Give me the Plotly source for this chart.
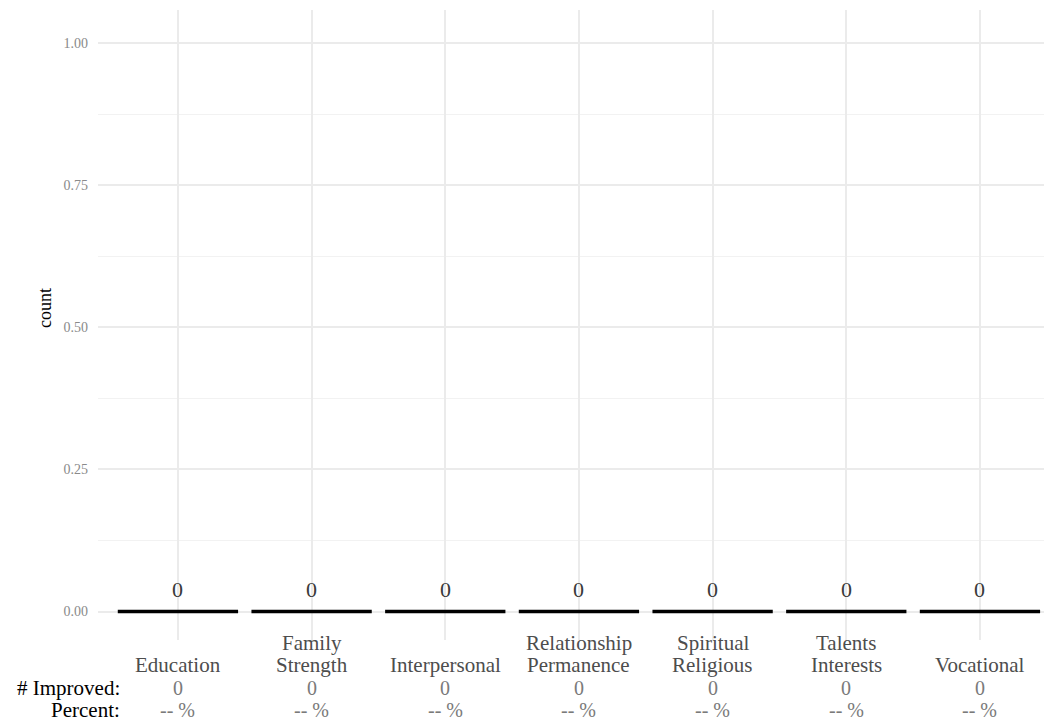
import plotly.graph_objects as go

categories = [["", "Education"], ["Family", "Strength"], ["", "Interpersonal"],
              ["Relationship", "Permanence"], ["Spiritual", "Religious"],
              ["Talents", "Interests"], ["", "Vocational"]]
counts = [0, 0, 0, 0, 0, 0, 0]
improved = [0, 0, 0, 0, 0, 0, 0]
percent_labels = ["-- %", "-- %", "-- %", "-- %", "-- %", "-- %", "-- %"]
row_labels = ["# Improved:", "Percent:"]
y_ticks = [0, 0.25, 0.5, 0.75, 1.0]
y_tick_labels = ["0.00", "0.25", "0.50", "0.75", "1.00"]
y_title = "count"

FONT = "Liberation Serif"
xpos = list(range(len(categories)))

# page is offset by 8px body margin; compensate
OFF = 8
W, H = 1052 - OFF, 721 - OFF
PLOT_TOP, PLOT_BOTTOM = 10, 640  # page px

def shift(center_page_y):
    return -(center_page_y - PLOT_BOTTOM)

fig = go.Figure()
fig.add_trace(go.Bar(
    x=xpos, y=counts, width=0.9,
    marker=dict(color="rgba(0,0,0,0)", line=dict(color="black", width=3.5)),
    showlegend=False, hoverinfo="skip",
))

annotations = []
for i, c in enumerate(counts):
    annotations.append(dict(x=i, y=c, xref="x", yref="y", text=str(c), showarrow=False,
                            yanchor="middle", yshift=22,
                            font=dict(family=FONT, size=22, color="#3a3a3a")))
line_centers = [643, 665, 688, 710]
for i, cat in enumerate(categories):
    lines = [(cat[0], "#4d4d4d", 21), (cat[1], "#4d4d4d", 21),
             (str(improved[i]), "#7a7a7a", 20), (percent_labels[i], "#7a7a7a", 20)]
    for (txt, col, sz), cy in zip(lines, line_centers):
        if not txt:
            continue
        annotations.append(dict(x=i, y=0, xref="x", yref="paper", text=txt,
                                showarrow=False, yanchor="middle", yshift=shift(cy),
                                font=dict(family=FONT, size=sz, color=col)))
for txt, cy in zip(row_labels, line_centers[2:]):
    annotations.append(dict(x=0, y=0, xref="paper", yref="paper", text=txt, showarrow=False,
                            xanchor="right", xshift=24, yanchor="middle", yshift=shift(cy),
                            font=dict(family=FONT, size=21, color="black")))
# y axis title
annotations.append(dict(x=0, y=(PLOT_BOTTOM - 308) / (PLOT_BOTTOM - PLOT_TOP),
                        xref="paper", yref="paper", text=y_title, showarrow=False,
                        textangle=-90, xanchor="center", yanchor="middle", xshift=-53,
                        font=dict(family=FONT, size=18, color="black")))

fig.update_layout(
    width=W, height=H,
    margin=dict(l=98 - OFF, r=0, t=PLOT_TOP - OFF, b=H - (PLOT_BOTTOM - OFF)),
    plot_bgcolor="white", paper_bgcolor="white",
    font=dict(family=FONT),
    annotations=annotations,
    xaxis=dict(range=[-0.598, 6.539], tickvals=xpos, showticklabels=False,
               showgrid=True, gridcolor="#ebebeb", gridwidth=1.5, zeroline=False,
               showline=False, ticks=""),
    yaxis=dict(range=[-0.05, 1.058], tickvals=y_ticks, ticktext=y_tick_labels,
               showgrid=True, gridcolor="#ebebeb", gridwidth=1.5, zeroline=False,
               showline=False, ticks="", ticklabelstandoff=9,
               tickfont=dict(family=FONT, size=14, color="#8a8a8a"),
               minor=dict(tickvals=[0.125, 0.375, 0.625, 0.875], showgrid=True,
                          gridcolor="#f2f2f2", gridwidth=1)),
    bargap=0.1,
)

fig.write_html("out.html")
